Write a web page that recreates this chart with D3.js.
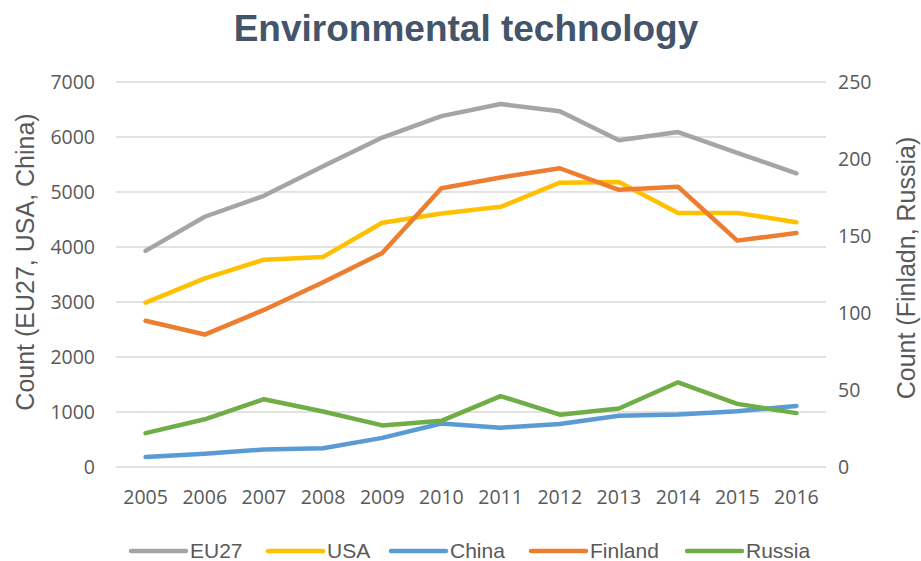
<!DOCTYPE html>
<html>
<head>
<meta charset="utf-8">
<script src="https://cdn.jsdelivr.net/npm/d3@7"></script>
<style>
  body { margin: 0; background: #fff; }
  svg { display: block; }
</style>
</head>
<body>
<script>
const years = ["2005", "2006", "2007", "2008", "2009", "2010", "2011", "2012", "2013", "2014", "2015", "2016"];
const eu27 = [3930, 4550, 4930, 5470, 5990, 6380, 6600, 6470, 5940, 6090, 5710, 5340];
const usa = [2990, 3430, 3770, 3820, 4440, 4610, 4730, 5170, 5180, 4620, 4620, 4450];
const china = [180, 240, 320, 340, 530, 790, 715, 780, 930, 955, 1015, 1110];
const finland = [95, 86, 102, 120, 139, 181, 188, 194, 180, 182, 147, 152];
const russia = [22, 31, 44, 36, 27, 30, 46, 34, 38, 55, 41, 35];
const leftTicks = [0, 1000, 2000, 3000, 4000, 5000, 6000, 7000];
const rightTicks = [0, 50, 100, 150, 200, 250];

const series = [
  { name: "EU27", values: eu27, axis: "left", color: "#A5A5A5" },
  { name: "USA", values: usa, axis: "left", color: "#FFC000" },
  { name: "China", values: china, axis: "left", color: "#5B9BD5" },
  { name: "Finland", values: finland, axis: "right", color: "#ED7D31" },
  { name: "Russia", values: russia, axis: "right", color: "#70AD47" }
];
// draw order: back to front
const drawOrder = ["EU27", "USA", "Finland", "China", "Russia"];

const width = 921, height = 561;
const margin = { top: 82, right: 95, bottom: 94, left: 116 };

const svg = d3.select("body").append("svg")
  .attr("width", width)
  .attr("height", height);

const x = d3.scaleBand().domain(years).range([margin.left, width - margin.right]);
const yL = d3.scaleLinear().domain([0, 7000]).range([height - margin.bottom, margin.top]);
const yR = d3.scaleLinear().domain([0, 250]).range([height - margin.bottom, margin.top]);

const font = "'Liberation Sans', Arial, sans-serif";
const tickFont = "'Open Sans', 'Liberation Sans', sans-serif";

// title
svg.append("text")
  .attr("x", 466)
  .attr("y", 41)
  .attr("text-anchor", "middle")
  .style("font-family", font)
  .style("font-weight", "bold")
  .style("font-size", "37px")
  .style("fill", "#44546A")
  .text("Environmental technology");

// gridlines
svg.append("g")
  .selectAll("line")
  .data(leftTicks)
  .join("line")
  .attr("x1", margin.left)
  .attr("x2", width - margin.right)
  .attr("y1", d => yL(d))
  .attr("y2", d => yL(d))
  .attr("stroke", "#D9D9D9")
  .attr("stroke-width", 1.5);

// left axis
const gl = svg.append("g")
  .attr("transform", `translate(${margin.left - 21},0)`)
  .call(d3.axisLeft(yL).tickValues(leftTicks).tickFormat(d3.format("d")).tickSize(0).tickPadding(0));
gl.select(".domain").remove();

// right axis
const gr = svg.append("g")
  .attr("transform", `translate(${width - margin.right + 12},0)`)
  .call(d3.axisRight(yR).tickValues(rightTicks).tickSize(0).tickPadding(0));
gr.select(".domain").remove();

// bottom axis
const gb = svg.append("g")
  .attr("transform", `translate(0,${height - margin.bottom + 21})`)
  .call(d3.axisBottom(x).tickSize(0).tickPadding(0));
gb.select(".domain").remove();

svg.selectAll(".tick text")
  .style("font-family", tickFont)
  .style("font-size", "19.5px")
  .style("fill", "#595959");
gl.selectAll(".tick text").attr("dy", "0.35em");
gr.selectAll(".tick text").attr("dy", "0.35em");
gb.selectAll(".tick text").attr("dy", "0.8em");

// axis titles
svg.append("text")
  .attr("transform", `translate(34,262) rotate(-90)`)
  .attr("text-anchor", "middle")
  .style("font-family", font)
  .style("font-size", "25px")
  .style("fill", "#595959")
  .text("Count (EU27, USA, China)");

svg.append("text")
  .attr("transform", `translate(915,268) rotate(-90)`)
  .attr("text-anchor", "middle")
  .style("font-family", font)
  .style("font-size", "25px")
  .style("fill", "#595959")
  .text("Count (Finladn, Russia)");

// lines
const lineL = d3.line().x((d, i) => x(years[i]) + x.bandwidth() / 2).y(d => yL(d));
const lineR = d3.line().x((d, i) => x(years[i]) + x.bandwidth() / 2).y(d => yR(d));

svg.append("g")
  .selectAll("path")
  .data(drawOrder.map(n => series.find(s => s.name === n)))
  .join("path")
  .attr("d", d => d.axis === "left" ? lineL(d.values) : lineR(d.values))
  .attr("fill", "none")
  .attr("stroke", d => d.color)
  .attr("stroke-width", 4.5)
  .attr("stroke-linejoin", "round")
  .attr("stroke-linecap", "round");

// legend
const legendX = [131, 268, 391, 531, 687];
const lg = svg.append("g")
  .selectAll("g")
  .data(series)
  .join("g")
  .attr("transform", (d, i) => `translate(${legendX[i]},551)`);
lg.append("line")
  .attr("x1", 0)
  .attr("x2", 55)
  .attr("stroke", d => d.color)
  .attr("stroke-width", 4.5)
  .attr("stroke-linecap", "round");
lg.append("text")
  .attr("x", 59)
  .attr("dy", "0.35em")
  .style("font-family", "'Liberation Sans Narrow', 'Liberation Sans', sans-serif")
  .style("font-size", "21px")
  .style("fill", "#595959")
  .text(d => d.name);
</script>
</body>
</html>
